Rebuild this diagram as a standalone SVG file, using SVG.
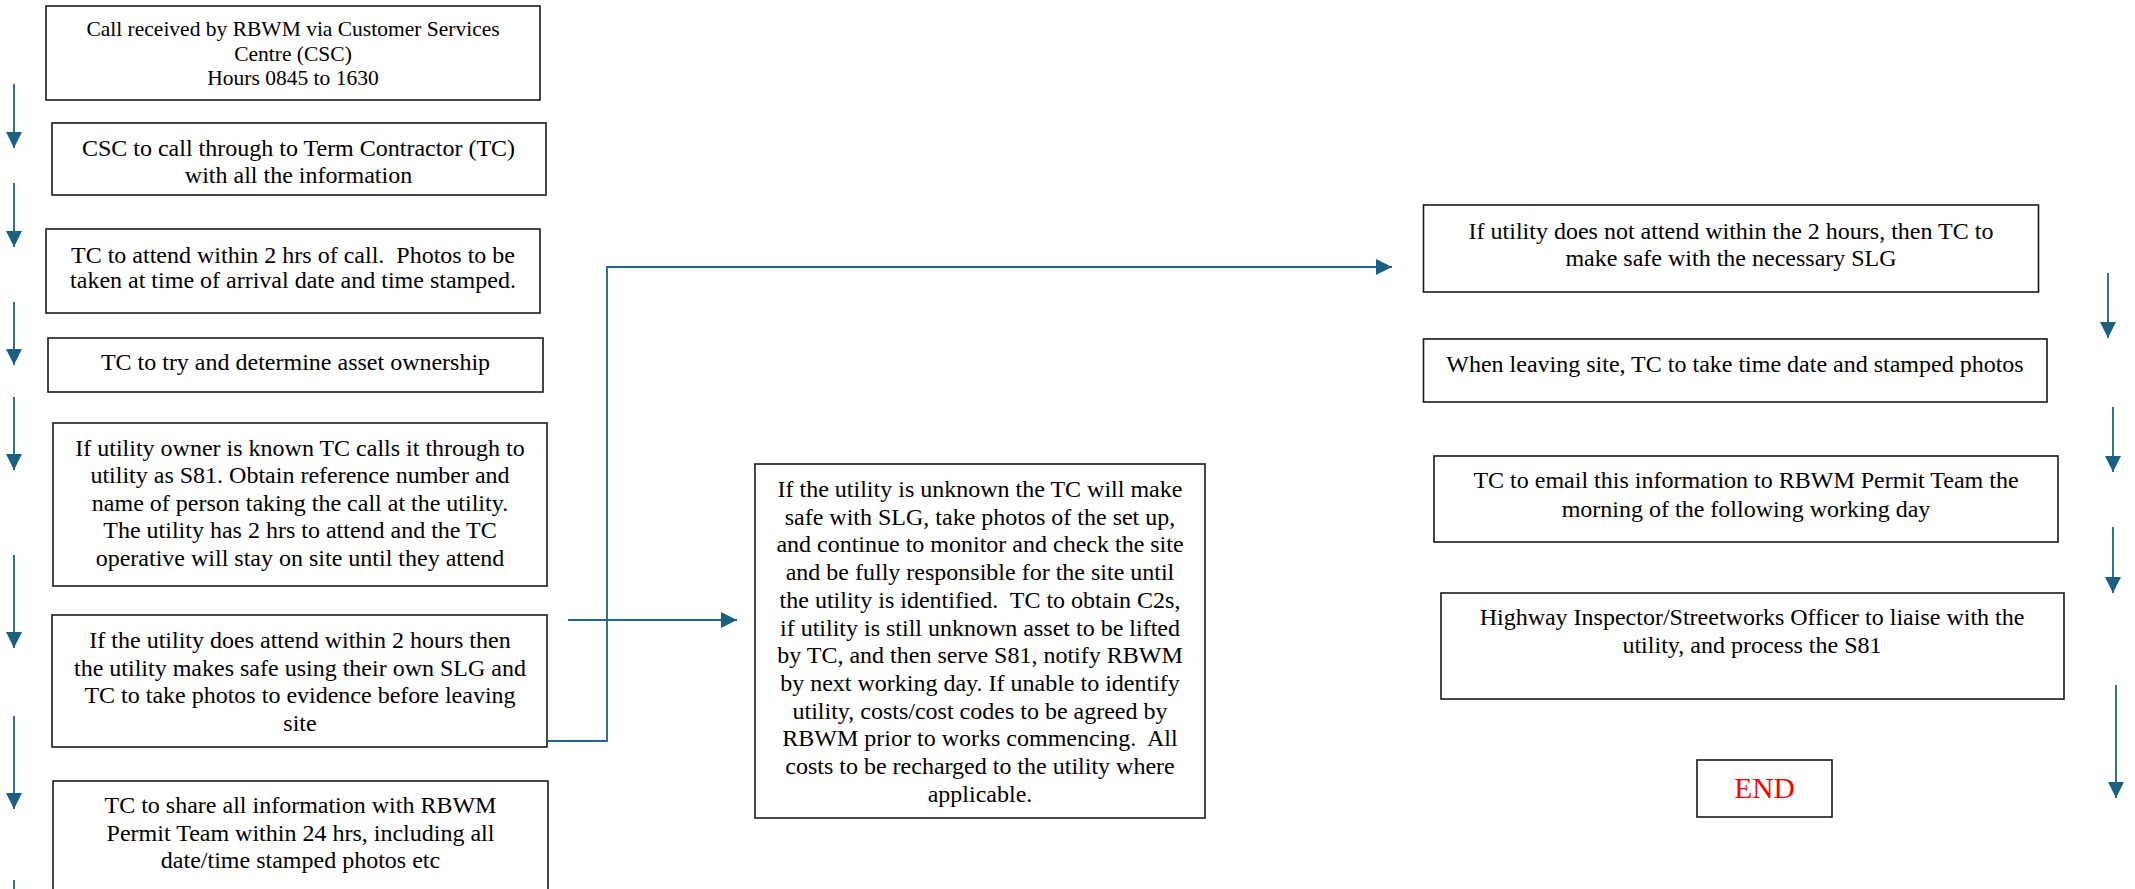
<svg xmlns="http://www.w3.org/2000/svg" width="2135" height="889" viewBox="0 0 2135 889">
<style>
.box{fill:#fff;stroke:#1a1a1a;stroke-width:1.6}
.t{font-family:"Liberation Serif","Times New Roman",serif;font-size:24px;fill:#000;text-anchor:middle}
.con{fill:none;stroke:#1f6386;stroke-width:1.8}
</style>
<defs>
<marker id="ah" markerUnits="userSpaceOnUse" markerWidth="17" markerHeight="17" refX="16" refY="8" orient="auto">
<path d="M0,0 L16,8 L0,16 z" fill="#1b5f82"/>
</marker>
</defs>
<rect width="2135" height="889" fill="#fff"/>

<g id="n1">
<rect class="box" x="46" y="6" width="494" height="94"/>
<text class="t" style="font-size:21.5px" x="293" y="36">Call received by RBWM via Customer Services</text>
<text class="t" style="font-size:21.5px" x="293" y="61">Centre (CSC)</text>
<text class="t" style="font-size:21.5px" x="293" y="85">Hours 0845 to 1630</text>
</g>

<g id="n2">
<rect class="box" x="52" y="123" width="494" height="72"/>
<text class="t" x="298.5" y="156">CSC to call through to Term Contractor (TC)</text>
<text class="t" x="298.5" y="183">with all the information</text>
</g>

<g id="n3">
<rect class="box" x="46" y="229" width="494" height="84"/>
<text class="t" x="293" y="263">TC to attend within 2 hrs of call.&#160; Photos to be</text>
<text class="t" x="293" y="288">taken at time of arrival date and time stamped.</text>
</g>

<g id="n4">
<rect class="box" x="48" y="338" width="495" height="54"/>
<text class="t" x="295.5" y="370">TC to try and determine asset ownership</text>
</g>

<g id="n5">
<rect class="box" x="53" y="423" width="494" height="163"/>
<text class="t" x="300" y="456">If utility owner is known TC calls it through to</text>
<text class="t" x="300" y="483">utility as S81. Obtain reference number and</text>
<text class="t" x="300" y="511">name of person taking the call at the utility.</text>
<text class="t" x="300" y="538">The utility has 2 hrs to attend and the TC</text>
<text class="t" x="300" y="566">operative will stay on site until they attend</text>
</g>

<g id="n6">
<rect class="box" x="52" y="615" width="495" height="132"/>
<text class="t" x="300" y="648">If the utility does attend within 2 hours then</text>
<text class="t" x="300" y="676">the utility makes safe using their own SLG and</text>
<text class="t" x="300" y="703">TC to take photos to evidence before leaving</text>
<text class="t" x="300" y="731">site</text>
</g>

<g id="n7">
<rect class="box" x="53" y="781" width="495" height="130"/>
<text class="t" x="300.5" y="813">TC to share all information with RBWM</text>
<text class="t" x="300.5" y="841">Permit Team within 24 hrs, including all</text>
<text class="t" x="300.5" y="868">date/time stamped photos etc</text>
</g>

<g id="n8">
<rect class="box" x="755" y="464" width="450" height="354"/>
<text class="t" x="980" y="497">If the utility is unknown the TC will make</text>
<text class="t" x="980" y="524.7">safe with SLG, take photos of the set up,</text>
<text class="t" x="980" y="552.4">and continue to monitor and check the site</text>
<text class="t" x="980" y="580.1">and be fully responsible for the site until</text>
<text class="t" x="980" y="607.8">the utility is identified.&#160; TC to obtain C2s,</text>
<text class="t" x="980" y="635.5">if utility is still unknown asset to be lifted</text>
<text class="t" x="980" y="663.2">by TC, and then serve S81, notify RBWM</text>
<text class="t" x="980" y="690.9">by next working day. If unable to identify</text>
<text class="t" x="980" y="718.6">utility, costs/cost codes to be agreed by</text>
<text class="t" x="980" y="746.3">RBWM prior to works commencing.&#160; All</text>
<text class="t" x="980" y="774">costs to be recharged to the utility where</text>
<text class="t" x="980" y="801.7">applicable.</text>
</g>

<g id="n9">
<rect class="box" x="1423.5" y="205" width="615" height="87"/>
<text class="t" x="1731" y="239">If utility does not attend within the 2 hours, then TC to</text>
<text class="t" x="1731" y="266">make safe with the necessary SLG</text>
</g>

<g id="n10">
<rect class="box" x="1423.5" y="339" width="623.5" height="63"/>
<text class="t" x="1735" y="372">When leaving site, TC to take time date and stamped photos</text>
</g>

<g id="n11">
<rect class="box" x="1434" y="456" width="624" height="86"/>
<text class="t" x="1746" y="488">TC to email this information to RBWM Permit Team the</text>
<text class="t" x="1746" y="517">morning of the following working day</text>
</g>

<g id="n12">
<rect class="box" x="1441" y="593" width="623" height="106"/>
<text class="t" x="1752" y="625">Highway Inspector/Streetworks Officer to liaise with the</text>
<text class="t" x="1752" y="653">utility, and process the S81</text>
</g>

<g id="n13">
<rect class="box" x="1697" y="760" width="135" height="57"/>
<text class="t" x="1764.5" y="798" style="font-size:29.5px;fill:#ff0000">END</text>
</g>

<g id="connectors">
<line class="con" x1="14" y1="84" x2="14" y2="148" marker-end="url(#ah)"/>
<line class="con" x1="14" y1="183" x2="14" y2="247" marker-end="url(#ah)"/>
<line class="con" x1="14" y1="302" x2="14" y2="365" marker-end="url(#ah)"/>
<line class="con" x1="14" y1="397" x2="14" y2="470" marker-end="url(#ah)"/>
<line class="con" x1="14" y1="555" x2="14" y2="648" marker-end="url(#ah)"/>
<line class="con" x1="14" y1="716" x2="14" y2="809" marker-end="url(#ah)"/>
<line class="con" x1="14" y1="880" x2="14" y2="889"/>
<line class="con" x1="568" y1="620" x2="737" y2="620" marker-end="url(#ah)"/>
<polyline class="con" points="547,741 607,741 607,267 1392,267" marker-end="url(#ah)"/>
<line class="con" x1="2108" y1="273" x2="2108" y2="338" marker-end="url(#ah)"/>
<line class="con" x1="2113" y1="407" x2="2113" y2="472" marker-end="url(#ah)"/>
<line class="con" x1="2113" y1="527" x2="2113" y2="593" marker-end="url(#ah)"/>
<line class="con" x1="2116" y1="685" x2="2116" y2="798" marker-end="url(#ah)"/>
</g>
</svg>
